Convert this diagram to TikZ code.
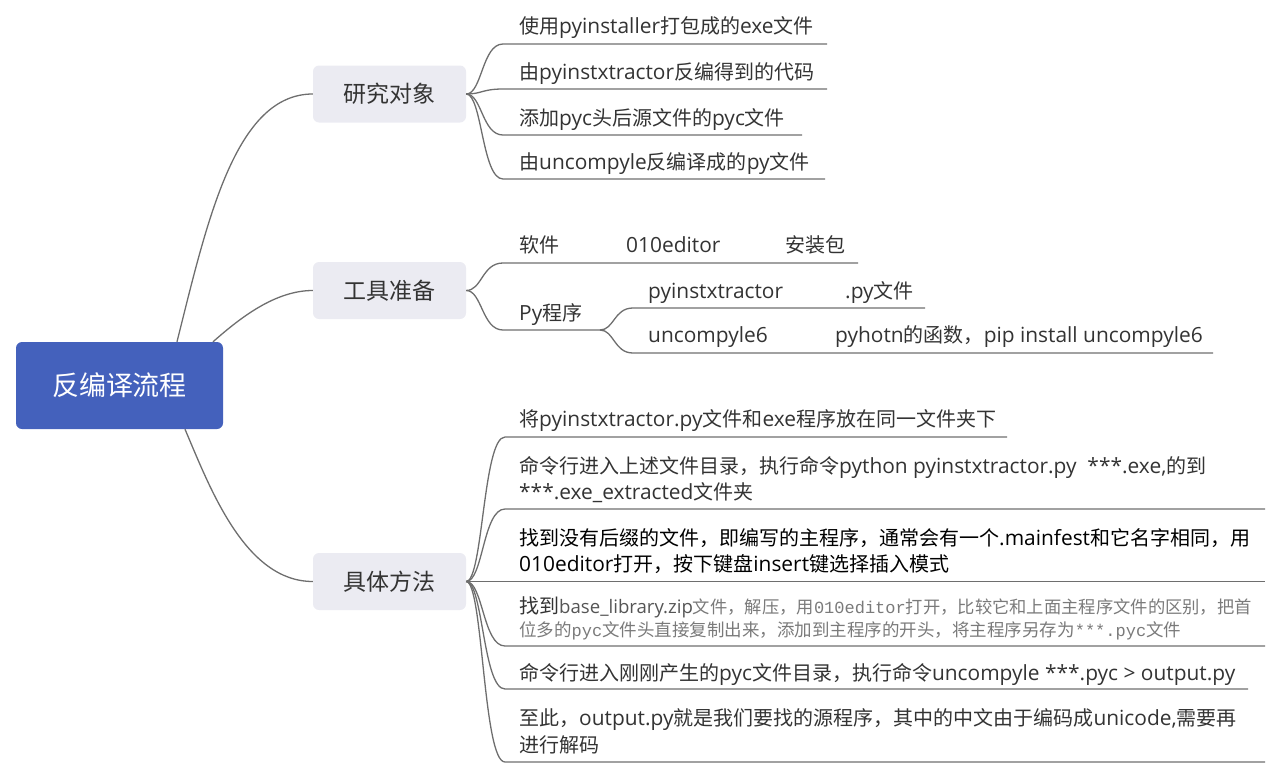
\documentclass[tikz,border=0pt]{standalone}
\usepackage{fontspec}
\setmainfont{Open Sans}
\newfontfamily\latf[Scale=1.045]{Open Sans}
\newfontfamily\cjkf{Noto Sans CJK SC}
\newfontfamily\monof{Liberation Mono}
\newcount\cjkcc
\cjkcc="3000 \loop\ifnum\cjkcc<"3040 \XeTeXcharclass\cjkcc=1 \advance\cjkcc by 1 \repeat
\cjkcc="4E00 \loop\ifnum\cjkcc<"A000 \XeTeXcharclass\cjkcc=1 \advance\cjkcc by 1 \repeat
\cjkcc="FF00 \loop\ifnum\cjkcc<"FFF0 \XeTeXcharclass\cjkcc=1 \advance\cjkcc by 1 \repeat
\cjkcc="21 \loop\ifnum\cjkcc<"7F \XeTeXcharclass\cjkcc=0 \advance\cjkcc by 1 \repeat
\XeTeXinterchartoks 0 1 = {\cjkf}
\XeTeXinterchartoks 4095 1 = {\cjkf}
\XeTeXinterchartoks 1 0 = {\latf}
\XeTeXinterchartoks 4095 0 = {\latf}
\definecolor{rootblue}{HTML}{4461BC}
\definecolor{branchbg}{HTML}{EBEBF2}
\definecolor{linecol}{HTML}{6E6E6E}
\definecolor{txt}{HTML}{333333}
\definecolor{graytxt}{HTML}{7A7A7A}
\definecolor{midtxt}{HTML}{555555}
\tikzset{
  conn/.style={draw=linecol, line width=1.3pt},
  rootbox/.style={fill=rootblue, rounded corners=6pt, minimum width=207pt, minimum height=87pt, inner sep=0pt, text=white, font=\fontsize{27}{32}\latf},
  branchbox/.style={fill=branchbg, rounded corners=6pt, minimum width=153pt, minimum height=57pt, inner sep=0pt, text=txt, font=\fontsize{23}{28}\latf},
  leaf/.style={anchor=base west, inner sep=0pt, text=txt, font=\fontsize{20}{27}\latf},
}
\begin{document}
\XeTeXinterchartokenstate=1
\begin{tikzpicture}[x=1pt,y=-1pt]
\useasboundingbox (0,0) rectangle (1280,771);
% central and main topics
\node[rootbox] (root) at (119.5,385.5) {反编译流程};
\node[branchbox] (b1) at (389.5,94) {研究对象};
\node[branchbox] (b2) at (389.5,290.5) {工具准备};
\node[branchbox] (b3) at (389.5,581.5) {具体方法};
\draw[conn] ([xshift=57.5pt]root.north) .. controls (207,222) and (235,94) .. (b1.west);
\draw[conn] ([xshift=93.5pt]root.north) .. controls (240,318) and (275,290.5) .. (b2.west);
\draw[conn] ([xshift=65.5pt]root.south) .. controls (210,488) and (245,581.5) .. (b3.west);
% 研究对象
\node[leaf] (l11) at (519,34) {使用pyinstaller打包成的exe文件};
\node[leaf] (l12) at (519,79) {由pyinstxtractor反编得到的代码};
\node[leaf] (l13) at (519,125) {添加pyc头后源文件的pyc文件};
\node[leaf] (l14) at (519,169) {由uncompyle反编译成的py文件};
\coordinate (u11) at (503,44);  \coordinate (v11) at (827,44);
\coordinate (u12) at (503,89);  \coordinate (v12) at (827,89);
\coordinate (u13) at (503,135); \coordinate (v13) at (802,135);
\coordinate (u14) at (503,179); \coordinate (v14) at (825,179);
\draw[conn] (b1.east) .. controls (482,94) and (482,44) .. (u11) -- (v11);
\draw[conn] (b1.east) .. controls (482,94) and (482,89) .. (u12) -- (v12);
\draw[conn] (b1.east) .. controls (482,94) and (482,135) .. (u13) -- (v13);
\draw[conn] (b1.east) .. controls (482,94) and (482,179) .. (u14) -- (v14);
% 工具准备
\node[leaf] (l21a) at (519,252) {软件};
\node[leaf] (l21b) at (626,252) {010editor};
\node[leaf] (l21c) at (785,252) {安装包};
\node[leaf] (l22) at (519,320) {Py程序};
\node[leaf] (l23a) at (648,298) {pyinstxtractor};
\node[leaf] (l23b) at (845,298) {.py文件};
\node[leaf] (l24a) at (648,342) {uncompyle6};
\node[leaf] (l24b) at (835,342) {pyhotn的函数，pip install uncompyle6};
\coordinate (u21) at (503,263); \coordinate (v21) at (858,263);
\coordinate (u22) at (503,330); \coordinate (v22) at (600,330);
\coordinate (u23) at (633,308); \coordinate (v23) at (925,308);
\coordinate (u24) at (633,353); \coordinate (v24) at (1213,353);
\draw[conn] (b2.east) .. controls (482,290.5) and (482,263) .. (u21) -- (v21);
\draw[conn] (b2.east) .. controls (482,290.5) and (482,330) .. (u22) -- (v22);
\draw[conn] (v22) .. controls (614,330) and (614,308) .. (u23) -- (v23);
\draw[conn] (v22) .. controls (614,330) and (614,353) .. (u24) -- (v24);
% 具体方法
\node[leaf] (l31) at (519,426) {将pyinstxtractor.py文件和exe程序放在同一文件夹下};
\node[leaf] (l32a) at (519,473) {命令行进入上述文件目录，执行命令python pyinstxtractor.py\ \ ***.exe,的到};
\node[leaf] (l32b) at (519,499) {***.exe\_extracted文件夹};
\node[leaf, text=black] (l33a) at (519,545) {找到没有后缀的文件，即编写的主程序，通常会有一个.mainfest和它名字相同，用};
\node[leaf, text=black] (l33b) at (519,571) {010editor打开，按下键盘insert键选择插入模式};
\node[leaf] (l34a) at (519,613) {\XeTeXinterchartokenstate=0 \cjkf 找到\color{midtxt}\fontsize{17.8}{22}\latf base\_library.zip\color{graytxt}\fontsize{17.3}{22}\cjkf 文件，解压，用\fontsize{17}{22}\monof 010editor\fontsize{17.3}{22}\cjkf 打开，比较它和上面主程序文件的区别，把首};
\node[leaf] (l34b) at (519,636) {\XeTeXinterchartokenstate=0 \color{graytxt}\fontsize{17.5}{22}\cjkf 位多的\fontsize{17}{22}\monof pyc\fontsize{17.5}{22}\cjkf 文件头直接复制出来，添加到主程序的开头，将主程序另存为\fontsize{17}{22}\monof ***.pyc\fontsize{17.5}{22}\cjkf 文件};
\node[leaf] (l35) at (519,680) {命令行进入刚刚产生的pyc文件目录，执行命令uncompyle ***.pyc > output.py};
\node[leaf] (l36a) at (519,725) {至此，output.py就是我们要找的源程序，其中的中文由于编码成unicode,需要再};
\node[leaf] (l36b) at (519,752) {进行解码};
\coordinate (u31) at (505,437); \coordinate (v31) at (1007,437);
\coordinate (u32) at (505,509); \coordinate (v32) at (1265,509);
\coordinate (v33) at (1265,581.5);
\coordinate (u34) at (505,646); \coordinate (v34) at (1265,646);
\coordinate (u35) at (505,689); \coordinate (v35) at (1248,689);
\coordinate (u36) at (505,762); \coordinate (v36) at (1265,762);
\draw[conn] (b3.east) .. controls (483,581.5) and (483,437) .. (u31) -- (v31);
\draw[conn] (b3.east) .. controls (483,581.5) and (483,509) .. (u32) -- (v32);
\draw[conn] (b3.east) -- (v33);
\draw[conn] (b3.east) .. controls (483,581.5) and (483,646) .. (u34) -- (v34);
\draw[conn] (b3.east) .. controls (483,581.5) and (483,689) .. (u35) -- (v35);
\draw[conn] (b3.east) .. controls (483,581.5) and (483,762) .. (u36) -- (v36);
\end{tikzpicture}
\end{document}
